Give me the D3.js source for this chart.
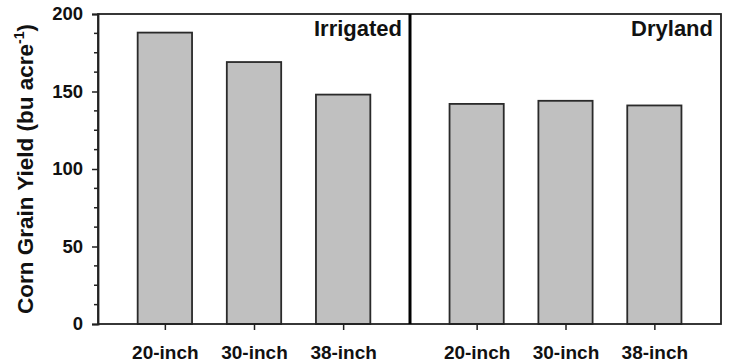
<!DOCTYPE html>
<html>
<head>
<meta charset="utf-8">
<script src="https://cdn.jsdelivr.net/npm/d3@7"></script>
<style>
  html, body { margin: 0; padding: 0; background: #fff; }
  svg { display: block; }
  text { font-family: "Liberation Sans", Arial, sans-serif; font-weight: bold; fill: #111; }
</style>
</head>
<body>
<svg id="chart" width="729" height="364"></svg>
<script>
// ---- data ----
const categories = ["20-inch", "30-inch", "38-inch"];
const panels = ["Irrigated", "Dryland"];
const irrigatedValues = [188, 169, 148];
const drylandValues = [142, 144, 141];
const yTicks = [0, 50, 100, 150, 200];
const yTitle = "Corn Grain Yield (bu acre";

// ---- layout ----
const svg = d3.select("#chart");
const mLeft = 98, mRight = 721, mTop = 14, mBottom = 324, divider = 410;

const y = d3.scaleLinear().domain([0, 200]).range([mBottom, mTop]);

const panelData = [
  { name: panels[0], values: irrigatedValues, range: [mLeft, divider] },
  { name: panels[1], values: drylandValues, range: [divider, mRight] }
];

// bars
panelData.forEach(p => {
  const x = d3.scalePoint().domain(categories).range(p.range).padding(0.75);
  const bw = x.step() * 0.61;
  const g = svg.append("g");
  g.selectAll("rect").data(p.values).join("rect")
    .attr("x", (d, i) => x(categories[i]) - bw / 2)
    .attr("y", d => y(d))
    .attr("width", bw)
    .attr("height", d => y(0) - y(d))
    .attr("fill", "#c0c0c0")
    .attr("stroke", "#2a2a2a")
    .attr("stroke-width", 1.8);

  // x axis ticks & labels
  const ax = svg.append("g").attr("transform", `translate(0,${mBottom})`)
    .call(d3.axisBottom(x).tickSize(6).tickPadding(16));
  ax.select(".domain").remove();
  ax.selectAll("line").attr("stroke", "#222").attr("stroke-width", 1.5);
  ax.selectAll("text").attr("font-size", 19).attr("fill", "#111")
    .attr("font-family", "Liberation Sans, Arial, sans-serif").attr("font-weight", "bold");

  // panel label
  svg.append("text")
    .attr("x", p.range[1] - 8)
    .attr("y", 36)
    .attr("text-anchor", "end")
    .attr("font-size", 22)
    .text(p.name);
});

// frame
svg.append("rect")
  .attr("x", mLeft).attr("y", mTop)
  .attr("width", mRight - mLeft).attr("height", mBottom - mTop)
  .attr("fill", "none").attr("stroke", "#222").attr("stroke-width", 1.8);

// divider
svg.append("line")
  .attr("x1", divider).attr("x2", divider)
  .attr("y1", mTop).attr("y2", mBottom)
  .attr("stroke", "#000").attr("stroke-width", 3);

// y axis: minor ticks
const minor = d3.range(0, 200.01, 12.5).filter(v => yTicks.indexOf(v) < 0);
svg.append("g").selectAll("line").data(minor).join("line")
  .attr("x1", mLeft - 4).attr("x2", mLeft)
  .attr("y1", d => y(d)).attr("y2", d => y(d))
  .attr("stroke", "#222").attr("stroke-width", 1.5);

const ay = svg.append("g").attr("transform", `translate(${mLeft},0)`)
  .call(d3.axisLeft(y).tickValues(yTicks).tickSize(6).tickPadding(9));
ay.select(".domain").attr("stroke", "#222").attr("stroke-width", 1.8);
ay.selectAll("line").attr("stroke", "#222").attr("stroke-width", 1.5);
ay.selectAll("text").attr("font-size", 18.5).attr("fill", "#111")
  .attr("font-family", "Liberation Sans, Arial, sans-serif").attr("font-weight", "bold");

// y title
const t = svg.append("text")
  .attr("transform", `translate(33,${(mTop + mBottom) / 2}) rotate(-90)`)
  .attr("text-anchor", "middle")
  .attr("font-size", 22.5);
t.append("tspan").text(yTitle);
t.append("tspan").attr("font-size", 14).attr("dy", -9).text("-1");
t.append("tspan").attr("dy", 9).text(")");
</script>
</body>
</html>
